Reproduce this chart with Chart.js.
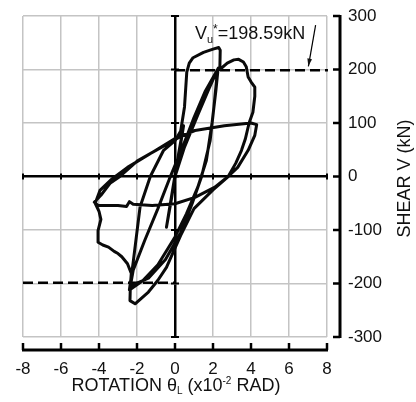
<!DOCTYPE html>
<html>
<head>
<meta charset="utf-8">
<script src="https://cdn.jsdelivr.net/npm/chart.js@4/dist/chart.umd.min.js"></script>
<style>
  html, body { margin: 0; padding: 0; background: #fff; }
  #wrap { width: 416px; height: 402px; }
</style>
</head>
<body>
<div id="wrap"><canvas id="grafico" width="416" height="402"></canvas></div>
<script>
// hysteresis loop, rotation (x10^-2 rad) and shear (kN)
const rotacion = [
  0, 0.25, 0.45, 0.2, -0.15, -0.45, -0.2, 0,
  0.5, 1.2, 1.8, 2.27, 2.2, 2.05, 1.85, 1.4, 0.9, 0.3, -0.5, -1.4, -2.35,
  -2.2, -1.6, -0.9, -0.3, 0.4, 1.0, 1.6, 2.27,
  2.15, 1.95, 1.65, 1.2, 0.6, 0, -0.9, -1.7, -2.4,
  -2.2, -1.84, -1.3, -0.6, 0, 0.3, 0.5, 0.62, 0.75, 0.95, 1.5, 2.0, 2.3, 2.38, 2.36,
  2.75, 3.1, 3.35, 3.6, 3.75, 3.85, 4.0, 4.2, 4.2, 4.1, 3.9, 3.7, 3.5, 3.2, 2.8,
  2.0, 1.0, 0.3, -0.45, -0.9, -1.4, -2.1, -2.37, -2.35, -2.3, -2.5, -2.8, -3.0, -3.2, -3.5, -3.8, -4.05, -4.05, -3.9, -4.0, -4.2,
  -3.95, -3.3, -2.5, -1.2, 0, 1.05, 2.6, 4.0, 4.3,
  4.2, 3.85, 3.3, 2.8, 2.1, 1.05, 0, -1.2, -2.2, -2.4, -2.55, -3.0, -4.05, -4.25,
  -3.9, -3.4, -2.9, -1.95, -0.7, 0.3
];
const cortante = [
  0, 50, 95, 45, -30, -95, -45, 0,
  55, 115, 165, 202, 185, 130, 67, 0, -51, -105, -155, -190, -205,
  -175, -120, -60, -5, 55, 110, 160, 202,
  160, 100, 30, -20, -70, -113, -165, -195, -212,
  -160, -57, 0, 49, 67, 85, 130, 195, 212, 222, 232, 238, 241, 236, 200,
  212, 218, 219, 214, 205, 186, 177, 167, 150, 120, 100, 70, 49, 25, 0,
  -25, -60, -110, -170, -194, -216, -238, -232, -205, -181, -163, -150, -144, -140, -132, -128, -123, -101, -80, -65, -50,
  -26, -4, 17, 45, 71, 86, 95, 100, 97,
  77, 49, 17, 0, -20, -39, -51, -54, -52, -47, -56, -54, -54, -48,
  -35, -12, 0, 30, 55, 75
];
const cortanteUltimo = 198.59;
const ticksRotacion = [-8, -6, -4, -2, 0, 2, 4, 6, 8];
const ticksCortante = [-300, -200, -100, 0, 100, 200, 300];

const curva = rotacion.map((r, i) => ({ x: r, y: cortante[i] }));
const limiteSup = [{ x: 0, y: cortanteUltimo }, { x: 8.05, y: cortanteUltimo }];
const limiteInf = [{ x: -8, y: -cortanteUltimo }, { x: 0, y: -cortanteUltimo }];

const fuente = '"Liberation Sans", Arial, Helvetica, sans-serif';

// draws text pieces (normal / sub / sup) in a row
function textoCompuesto(ctx, partes, x, y, align) {
    let total = 0;
    partes.forEach(p => {
        ctx.font = p.size + 'px ' + fuente;
        total += ctx.measureText(p.t).width;
    });
    let cx = align === 'center' ? x - total / 2 : x;
    partes.forEach(p => {
        ctx.font = p.size + 'px ' + fuente;
        ctx.fillText(p.t, cx, y + (p.dy || 0));
        cx += ctx.measureText(p.t).width;
    });
    return total;
}

const decoracion = {
    id: 'decoracion',
    afterDraw(chart) {
        const ctx = chart.ctx;
        const xs = chart.scales.x;
        const ys = chart.scales.y;
        const area = chart.chartArea;
        ctx.save();
        ctx.strokeStyle = '#000';
        ctx.fillStyle = '#111';

        // bottom axis line with ticks
        const yEje = area.bottom + 13;
        ctx.lineWidth = 3;
        ctx.beginPath();
        ctx.moveTo(xs.getPixelForValue(-8) - 1, yEje);
        ctx.lineTo(xs.getPixelForValue(8) + 1, yEje);
        ctx.stroke();
        ctx.lineWidth = 2.5;
        ticksRotacion.forEach(v => {
            const px = xs.getPixelForValue(v);
            ctx.beginPath();
            ctx.moveTo(px, yEje);
            ctx.lineTo(px, yEje - 7);
            ctx.stroke();
        });

        // right axis line with ticks
        const xEje = area.right + 13;
        ctx.lineWidth = 3;
        ctx.beginPath();
        ctx.moveTo(xEje, ys.getPixelForValue(300) - 1);
        ctx.lineTo(xEje, ys.getPixelForValue(-300) + 1);
        ctx.stroke();
        ctx.lineWidth = 2.5;
        ticksCortante.forEach(v => {
            const py = ys.getPixelForValue(v);
            ctx.beginPath();
            ctx.moveTo(xEje, py);
            ctx.lineTo(xEje - 7, py);
            ctx.stroke();
        });

        // small ticks on the zero axes
        const x0 = xs.getPixelForValue(0);
        const y0 = ys.getPixelForValue(0);
        ctx.lineWidth = 2;
        ticksCortante.forEach(v => {
            const py = ys.getPixelForValue(v);
            ctx.beginPath();
            ctx.moveTo(x0 - 4, py);
            ctx.lineTo(x0 + 4, py);
            ctx.stroke();
        });
        ticksRotacion.forEach(v => {
            const px = xs.getPixelForValue(v);
            ctx.beginPath();
            ctx.moveTo(px, y0 - 3);
            ctx.lineTo(px, y0 + 3);
            ctx.stroke();
        });

        // Vu* label and arrow
        ctx.textBaseline = 'alphabetic';
        ctx.textAlign = 'left';
        textoCompuesto(ctx, [
            { t: 'V', size: 18 },
            { t: 'u', size: 11, dy: 4 },
            { t: '*', size: 12, dy: -6 },
            { t: '=198.59kN', size: 18 }
        ], xs.getPixelForValue(1.05), ys.getPixelForValue(269) + 6, 'left');

        const ax1 = xs.getPixelForValue(7.4), ay1 = ys.getPixelForValue(283);
        const ax2 = xs.getPixelForValue(7.02), ay2 = ys.getPixelForValue(206);
        ctx.lineWidth = 1.2;
        ctx.beginPath();
        ctx.moveTo(ax1, ay1);
        ctx.lineTo(ax2, ay2);
        ctx.stroke();
        const ang = Math.atan2(ay2 - ay1, ax2 - ax1);
        ctx.beginPath();
        ctx.moveTo(ax2, ay2);
        ctx.lineTo(ax2 - 8 * Math.cos(ang - 0.3), ay2 - 8 * Math.sin(ang - 0.3));
        ctx.lineTo(ax2 - 8 * Math.cos(ang + 0.3), ay2 - 8 * Math.sin(ang + 0.3));
        ctx.closePath();
        ctx.fill();

        // x title
        textoCompuesto(ctx, [
            { t: 'ROTATION \u03B8', size: 18 },
            { t: 'L', size: 10, dy: 3 },
            { t: ' (x10', size: 18 },
            { t: '-2', size: 10, dy: -7 },
            { t: ' RAD)', size: 18 }
        ], (xs.getPixelForValue(-8) + xs.getPixelForValue(8)) / 2 + 1, 391, 'center');

        // y title
        ctx.translate(410, ys.getPixelForValue(0) + 2);
        ctx.rotate(-Math.PI / 2);
        ctx.textAlign = 'center';
        ctx.font = '18px ' + fuente;
        ctx.fillText('SHEAR V (kN)', 0, 0);
        ctx.restore();
    }
};

const grafico = document.getElementById('grafico').getContext('2d');

window.graficaHisteresis = new Chart(grafico, {
    type: 'scatter',
    data: {
        datasets: [
            {
                data: curva,
                showLine: true,
                borderColor: '#0a0a0a',
                borderWidth: 3,
                pointRadius: 0,
                tension: 0,
                borderJoinStyle: 'round',
                borderCapStyle: 'round'
            },
            {
                data: limiteSup,
                showLine: true,
                borderColor: '#000',
                borderWidth: 2.5,
                borderDash: [10, 5],
                pointRadius: 0
            },
            {
                data: limiteInf,
                showLine: true,
                borderColor: '#000',
                borderWidth: 2.5,
                borderDash: [10, 5],
                pointRadius: 0
            }
        ]
    },
    options: {
        responsive: false,
        animation: false,
        devicePixelRatio: 1,
        clip: false,
        layout: { padding: { left: 23, top: 16, right: 0, bottom: 0 } },
        plugins: { legend: { display: false }, tooltip: { enabled: false } },
        scales: {
            x: {
                type: 'linear',
                min: -8,
                max: 8,
                afterBuildTicks: s => { s.ticks = ticksRotacion.map(v => ({ value: v })); },
                afterFit: s => { s.height = 65; s.paddingLeft = 0; s.paddingRight = 0; },
                ticks: { padding: 22, color: '#111', font: { family: fuente, size: 17 } },
                grid: {
                    drawTicks: false,
                    color: c => (c.tick && c.tick.value === 0) ? '#000' : '#c4c4c4',
                    lineWidth: c => (c.tick && c.tick.value === 0) ? 2.5 : 1.5
                },
                border: { display: false }
            },
            y: {
                type: 'linear',
                position: 'right',
                min: -300,
                max: 300,
                afterBuildTicks: s => { s.ticks = ticksCortante.map(v => ({ value: v })); },
                afterFit: s => { s.width = 89; s.paddingTop = 0; s.paddingBottom = 0; },
                ticks: { padding: 21, color: '#111', font: { family: fuente, size: 17 } },
                grid: {
                    drawTicks: false,
                    color: c => (c.tick && c.tick.value === 0) ? '#000' : '#c4c4c4',
                    lineWidth: c => (c.tick && c.tick.value === 0) ? 2.5 : 1.5
                },
                border: { display: false }
            }
        }
    },
    plugins: [decoracion]
});
</script>
</body>
</html>
